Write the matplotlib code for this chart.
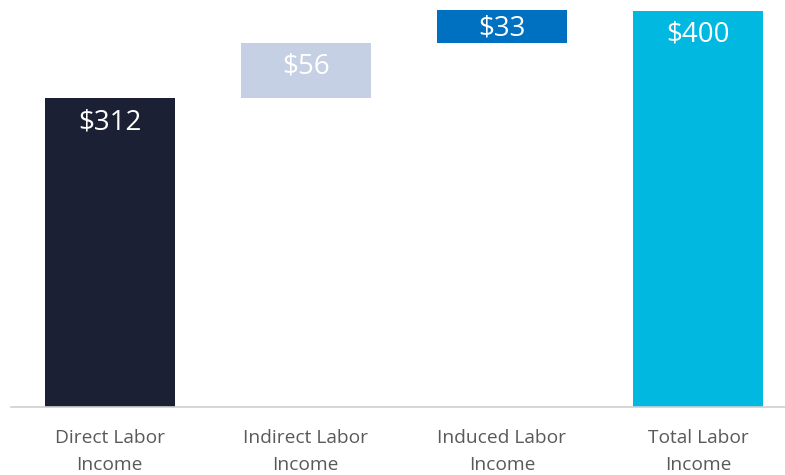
import matplotlib
matplotlib.use("Agg")
import matplotlib.pyplot as plt

categories = ["Direct Labor\nIncome", "Indirect Labor\nIncome", "Induced Labor\nIncome", "Total Labor\nIncome"]
values = [312, 56, 33, 400]
labels = ["$312", "$56", "$33", "$400"]
colors = ["#1b2035", "#c5d0e4", "#0070c0", "#00b8e0"]

# waterfall bottoms
bottoms = [0, values[0], values[0] + values[1], 0]

plt.rcParams['font.family'] = ['Open Sans', 'DejaVu Sans']
fig = plt.figure(figsize=(7.85, 4.75), dpi=100)
ax = fig.add_axes([11/785, 1 - 407/475, 774/785, 407/475])

x = list(range(len(categories)))
bars = ax.bar(x, values, bottom=bottoms, width=0.663, color=colors, zorder=2)

ax.set_xlim(-0.503, 3.444)
ax.set_ylim(0, 411)

for xi, v, b, lab in zip(x, values, bottoms, labels):
    top = b + v
    bar_px = v * 407 / 411
    off = min(24, bar_px / 2 + 2)
    ax.annotate(lab, xy=(xi, top), xytext=(0, -off * 72 / 100), textcoords='offset points',
                ha='center', va='center', color='white', fontsize=20)

ax.set_xticks(x)
ax.set_xticklabels(categories, fontsize=13.8, color='#595959', linespacing=1.6)
ax.tick_params(axis='x', length=0, pad=16)
ax.set_yticks([])
for s in ['top', 'right', 'left']:
    ax.spines[s].set_visible(False)
ax.spines['bottom'].set_color('#d0d0d0')
ax.spines['bottom'].set_linewidth(1.2)

fig.savefig("out.png", dpi=100)
